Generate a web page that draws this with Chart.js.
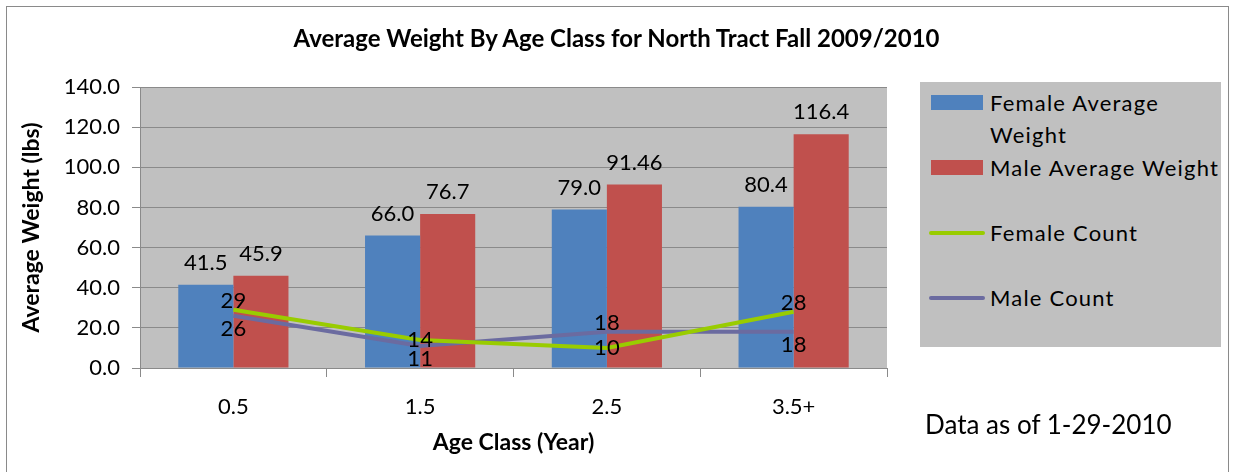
<!DOCTYPE html>
<html>
<head>
<meta charset="utf-8">
<script src="https://cdn.jsdelivr.net/npm/chart.js@4.4.1/dist/chart.umd.min.js"></script>
<style>
  html, body { margin: 0; padding: 0; background: #fff; }
  body { width: 1233px; height: 472px; position: relative; overflow: hidden; font-family: Lato, "Open Sans", sans-serif; }
  #frame { position: absolute; left: 6px; top: 6px; width: 1221px; height: 480px; border: 1px solid #8a8a8a; }
  #wrap { position: absolute; left: 0; top: 0; width: 1233px; height: 472px; }
  #title { position: absolute; left: 0; top: 23px; width: 1233px; text-align: center; font-weight: bold; font-size: 24px; color: #000; }
  #legend { position: absolute; left: 920px; top: 82px; width: 301px; height: 265px; background: #c0c0c0; }
  .item { position: absolute; left: 0; width: 301px; height: 65px; }
  .item .txt { position: absolute; left: 70px; top: 0; width: 231px; font-size: 22px; letter-spacing: 1.2px; line-height: 32px; color: #000; }
  .item .sw { position: absolute; }
  #note { position: absolute; left: 925px; top: 408px; font-size: 26px; color: #000; }
</style>
</head>
<body>
<div id="frame"></div>
<div id="wrap"><canvas id="chart" width="1233" height="472"></canvas></div>
<div id="title">Average Weight By Age Class for North Tract Fall 2009/2010</div>
<div id="legend"></div>
<div id="note">Data as of 1-29-2010</div>
<script>
const categories = ["0.5", "1.5", "2.5", "3.5+"];
const femaleWeight = [41.5, 66.0, 79.0, 80.4];
const maleWeight = [45.9, 76.7, 91.46, 116.4];
const femaleCount = [29, 14, 10, 28];
const maleCount = [26, 11, 18, 18];

const FONT = "Lato, 'Open Sans', sans-serif";

function fmtWeight(v) {
  const t = v * 10;
  return Math.abs(t - Math.round(t)) < 1e-9 ? v.toFixed(1) : String(v);
}

// grey plot area like the excel chart
const plotBg = {
  id: "plotBg",
  beforeDraw(chart) {
    const a = chart.chartArea;
    const ctx = chart.ctx;
    ctx.save();
    ctx.fillStyle = "#c0c0c0";
    ctx.fillRect(a.left, a.top, a.right - a.left, a.bottom - a.top);
    ctx.restore();
  }
};

const valueLabels = {
  id: "valueLabels",
  afterDatasetsDraw(chart) {
    const ctx = chart.ctx;
    ctx.save();
    ctx.font = "22px " + FONT;
    ctx.fillStyle = "#000";
    ctx.textAlign = "center";
    ctx.textBaseline = "middle";
    chart.data.datasets.forEach((ds, i) => {
      const meta = chart.getDatasetMeta(i);
      meta.data.forEach((el, j) => {
        const v = ds.data[j];
        if (ds.type === "bar") {
          ctx.fillText(fmtWeight(v), el.x, el.y - 22);
        } else {
          const align = ds.labelAlign[j];
          const dy = align === "above" ? -9 : align === "below" ? 13 : 0;
          ctx.fillText(String(v), el.x, el.y + dy);
        }
      });
    });
    ctx.restore();
  }
};

const chart = new Chart(document.getElementById("chart"), {
  data: {
    labels: categories,
    datasets: [
      {
        type: "line",
        label: "Female Count",
        data: femaleCount,
        borderColor: "#99cc00",
        borderWidth: 4,
        pointRadius: 0,
        tension: 0,
        order: 0,
        labelAlign: ["above", "center", "center", "above"]
      },
      {
        type: "line",
        label: "Male Count",
        data: maleCount,
        borderColor: "#6b6ba0",
        borderWidth: 4,
        pointRadius: 0,
        tension: 0,
        order: 0,
        labelAlign: ["below", "below", "above", "below"]
      },
      {
        type: "bar",
        label: "Female Average Weight",
        data: femaleWeight,
        backgroundColor: "#4f81bd",
        order: 1,
        categoryPercentage: 0.59,
        barPercentage: 1
      },
      {
        type: "bar",
        label: "Male Average Weight",
        data: maleWeight,
        backgroundColor: "#c0504d",
        order: 1,
        categoryPercentage: 0.59,
        barPercentage: 1
      }
    ]
  },
  options: {
    responsive: false,
    animation: false,
    layout: { padding: { left: 14, right: 346, top: 87, bottom: 12 } },
    plugins: {
      legend: { display: false },
      tooltip: { enabled: false }
    },
    scales: {
      x: {
        offset: true,
        grid: {
          offset: true,
          drawOnChartArea: false,
          color: "#8a8a8a",
          tickLength: 9
        },
        border: { color: "#8a8a8a" },
        ticks: { color: "#000", font: { family: FONT, size: 22 }, padding: 17 },
        title: {
          display: true,
          text: "Age Class (Year)",
          color: "#000",
          font: { family: FONT, size: 23, weight: "bold" },
          padding: { top: 4, bottom: 4 }
        },
        afterFit(scale) { scale.height = 92; }
      },
      y: {
        min: 0,
        max: 140,
        ticks: {
          stepSize: 20,
          color: "#000",
          font: { family: FONT, size: 22 },
          padding: 12,
          callback: v => v.toFixed(1)
        },
        grid: { color: "#8a8a8a", tickLength: 8 },
        border: { color: "#8a8a8a" },
        title: {
          display: true,
          text: "Average Weight (lbs)",
          color: "#000",
          font: { family: FONT, size: 23, weight: "bold" },
          padding: { top: 4, bottom: 4 }
        },
        afterFit(scale) { scale.width = 126; }
      }
    }
  },
  plugins: [plotBg, valueLabels]
});

// html legend in excel order: bars first, then lines
const legend = document.getElementById("legend");
const legendOrder = [2, 3, 0, 1];
legendOrder.forEach((idx, k) => {
  const ds = chart.data.datasets[idx];
  const item = document.createElement("div");
  item.className = "item";
  item.style.top = (5 + k * 65) + "px";
  const sw = document.createElement("div");
  sw.className = "sw";
  if (ds.type === "bar") {
    sw.style.left = "11px"; sw.style.top = "8px";
    sw.style.width = "52px"; sw.style.height = "15px";
    sw.style.background = ds.backgroundColor;
  } else {
    sw.style.left = "9px"; sw.style.top = "14px";
    sw.style.width = "56px"; sw.style.height = "4px";
    sw.style.borderRadius = "2px";
    sw.style.background = ds.borderColor;
  }
  const txt = document.createElement("div");
  txt.className = "txt";
  txt.textContent = ds.label;
  item.appendChild(sw);
  item.appendChild(txt);
  legend.appendChild(item);
});
</script>
</body>
</html>
